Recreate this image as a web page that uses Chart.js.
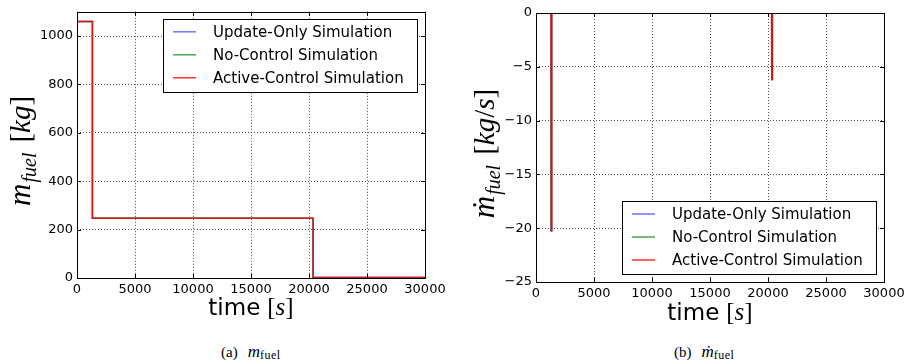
<!DOCTYPE html>
<html>
<head>
<meta charset="utf-8">
<script src="https://cdn.jsdelivr.net/npm/chart.js@4.4.1/dist/chart.umd.min.js"></script>
<style>
  body { margin: 0; background: #fff; width: 911px; height: 364px; overflow: hidden; position: relative; }
  .panel { position: absolute; top: 0; }
  .cap { position: absolute; top: 342px; font-family: "Liberation Serif", serif; font-size: 15px; color: #000; white-space: nowrap; }
  .cap i { font-size: 17px; margin-left: 10px; }
  .cap sub { font-size: 12px; letter-spacing: 0.5px; vertical-align: -2px; }
</style>
</head>
<body>
<div class="panel" style="left:0px"><canvas id="fuelChart" width="455" height="335"></canvas></div>
<div class="panel" style="left:455px"><canvas id="rateChart" width="456" height="335"></canvas></div>
<div class="cap" style="left:221px">(a)<i>m</i><sub>fuel</sub></div>
<div class="cap" style="left:674px">(b)<i>ṁ</i><sub>fuel</sub></div>

<script>
// data
const timeA = [0, 1330, 1330, 20350, 20350, 30000];
const massA = [1060, 1060, 247, 247, 2, 2];
const timeB = [0, 1315, 1325, 1335, 20335, 20345, 20355, 30000];
const rateB = [0, 0, -20.3, 0, 0, -6.15, 0, 0];

const xTicks = [0, 5000, 10000, 15000, 20000, 25000, 30000];
const yTicksA = [0, 200, 400, 600, 800, 1000];
const yTicksB = [-25, -20, -15, -10, -5, 0];

const seriesNames = ['Update-Only Simulation', 'No-Control Simulation', 'Active-Control Simulation'];
const seriesColors = ['rgba(0,0,255,0.55)', 'rgba(0,128,0,0.7)', 'rgba(255,0,0,0.8)'];

const SANS = '"DejaVu Sans", sans-serif';
const SERIF = '"Liberation Serif", "DejaVu Serif", serif';

// draws a row of text pieces centred on x=0, baseline y=0
function drawPieces(ctx, pieces) {
    let total = 0;
    pieces.forEach(p => { ctx.font = p.font; p.w = ctx.measureText(p.text).width; total += p.w + (p.gap || 0); });
    let x = -total / 2;
    ctx.textAlign = 'left';
    ctx.textBaseline = 'alphabetic';
    ctx.fillStyle = '#000';
    pieces.forEach(p => {
        x += p.gap || 0;
        ctx.font = p.font;
        ctx.fillText(p.text, x, p.dy || 0);
        x += p.w;
    });
}

const decorPlugin = {
    id: 'decor',
    afterDraw(chart, args, opts) {
        const ctx = chart.ctx;
        const a = chart.chartArea;
        const xs = chart.scales.x, ys = chart.scales.y;
        ctx.save();

        // frame and inward ticks
        ctx.strokeStyle = '#000';
        ctx.lineWidth = 1;
        ctx.strokeRect(Math.round(a.left) + 0.5, Math.round(a.top) + 0.5, Math.round(a.right - a.left), Math.round(a.bottom - a.top));
        ctx.beginPath();
        xs.ticks.forEach(t => {
            const px = Math.round(xs.getPixelForValue(t.value)) + 0.5;
            ctx.moveTo(px, a.bottom); ctx.lineTo(px, a.bottom - 4);
            ctx.moveTo(px, a.top); ctx.lineTo(px, a.top + 4);
        });
        ys.ticks.forEach(t => {
            const py = Math.round(ys.getPixelForValue(t.value)) + 0.5;
            ctx.moveTo(a.left, py); ctx.lineTo(a.left + 4, py);
            ctx.moveTo(a.right, py); ctx.lineTo(a.right - 4, py);
        });
        ctx.stroke();

        // legend
        const bw = 254, bh = 73;
        const bx = a.right - 8 - bw;
        const by = opts.legendAt === 'bottom' ? a.bottom - 8 - bh : a.top + 7;
        ctx.fillStyle = '#fff';
        ctx.fillRect(bx, by, bw, bh);
        ctx.strokeStyle = '#000';
        ctx.strokeRect(Math.round(bx) + 0.5, Math.round(by) + 0.5, bw, bh);
        ctx.font = '15px ' + SANS;
        ctx.textBaseline = 'middle';
        seriesNames.forEach((name, i) => {
            const ry = by + 13 + i * 23;
            ctx.strokeStyle = seriesColors[i];
            ctx.lineWidth = 1.5;
            ctx.beginPath();
            ctx.moveTo(bx + 10, ry); ctx.lineTo(bx + 33, ry);
            ctx.stroke();
            ctx.fillStyle = '#000';
            ctx.fillText(name, bx + 50, ry + 1);
        });

        // x title
        ctx.save();
        ctx.translate((a.left + a.right) / 2, opts.xTitleY);
        drawPieces(ctx, [
            { text: 'time', font: '23px ' + SANS },
            { text: '[', font: '25px ' + SERIF, gap: 7 },
            { text: 's', font: 'italic 25px ' + SERIF },
            { text: ']', font: '25px ' + SERIF }
        ]);
        ctx.restore();

        // y title
        ctx.save();
        ctx.translate(opts.yTitleX, (a.top + a.bottom) / 2 + 6);
        ctx.rotate(-Math.PI / 2);
        const unit = opts.unit.map(u => ({ text: u, font: (u === '[' || u === ']' || u === '/' ? '' : 'italic ') + '29px ' + SERIF }));
        unit[0].gap = 10;
        drawPieces(ctx, [
            { text: opts.sym, font: 'italic 31px ' + SERIF },
            { text: 'fuel', font: 'italic 20px ' + SERIF, dy: 6, gap: 1 }
        ].concat(unit));
        ctx.restore();

        ctx.restore();
    }
};

function minusFmt(v) {
    return v < 0 ? '\u2212' + Math.abs(v) : String(v);
}

function makeChart(id, times, values, cfg) {
    // red is drawn last, on top of the other two
    const datasets = seriesNames.map((name, i) => ({
        label: name,
        data: times.map((t, k) => ({ x: t, y: values[k] })),
        borderColor: seriesColors[i],
        borderWidth: cfg.lineWidth,
        pointRadius: 0,
        fill: false,
        tension: 0,
        order: seriesNames.length - 1 - i
    }));
    const gridStyle = {
        color: 'rgba(0,0,0,0.7)',
        lineWidth: 1,
        drawTicks: false
    };
    return new Chart(document.getElementById(id), {
        type: 'line',
        data: { datasets: datasets },
        options: {
            responsive: false,
            animation: false,
            layout: { padding: { left: 0, top: cfg.top, right: cfg.right, bottom: 0 } },
            plugins: {
                legend: { display: false },
                tooltip: { enabled: false },
                decor: cfg.decor
            },
            scales: {
                x: {
                    type: 'linear',
                    min: 0,
                    max: 30000,
                    afterBuildTicks: s => { s.ticks = xTicks.map(v => ({ value: v })); },
                    afterFit: s => { s.height = cfg.bottomH; },
                    border: { display: false, dash: [1, 2] },
                    grid: gridStyle,
                    ticks: { color: '#000', font: { family: 'DejaVu Sans', size: 13 }, padding: 4, maxRotation: 0, callback: v => String(v) }
                },
                y: {
                    type: 'linear',
                    min: cfg.yMin,
                    max: cfg.yMax,
                    afterBuildTicks: s => { s.ticks = cfg.yTicks.map(v => ({ value: v })); },
                    afterFit: s => { s.width = cfg.leftW; },
                    border: { display: false, dash: [1, 2] },
                    grid: gridStyle,
                    ticks: { color: '#000', font: { family: 'DejaVu Sans', size: 13 }, padding: 4, callback: v => minusFmt(v) }
                }
            }
        },
        plugins: [decorPlugin]
    });
}

makeChart('fuelChart', timeA, massA, {
    top: 10, right: 30, leftW: 77, bottomH: 57,
    yMin: 0, yMax: 1100, yTicks: yTicksA, lineWidth: 1.5,
    decor: { legendAt: 'top', xTitleY: 315, yTitleX: 30, sym: 'm', unit: ['[', 'kg', ']'] }
});

makeChart('rateChart', timeB, rateB, {
    top: 13, right: 27, leftW: 81, bottomH: 53,
    yMin: -25, yMax: 0, yTicks: yTicksB, lineWidth: 2,
    decor: { legendAt: 'bottom', xTitleY: 320, yTitleX: 39, sym: 'ṁ', unit: ['[', 'kg', '/', 's', ']'] }
});
</script>
</body>
</html>
